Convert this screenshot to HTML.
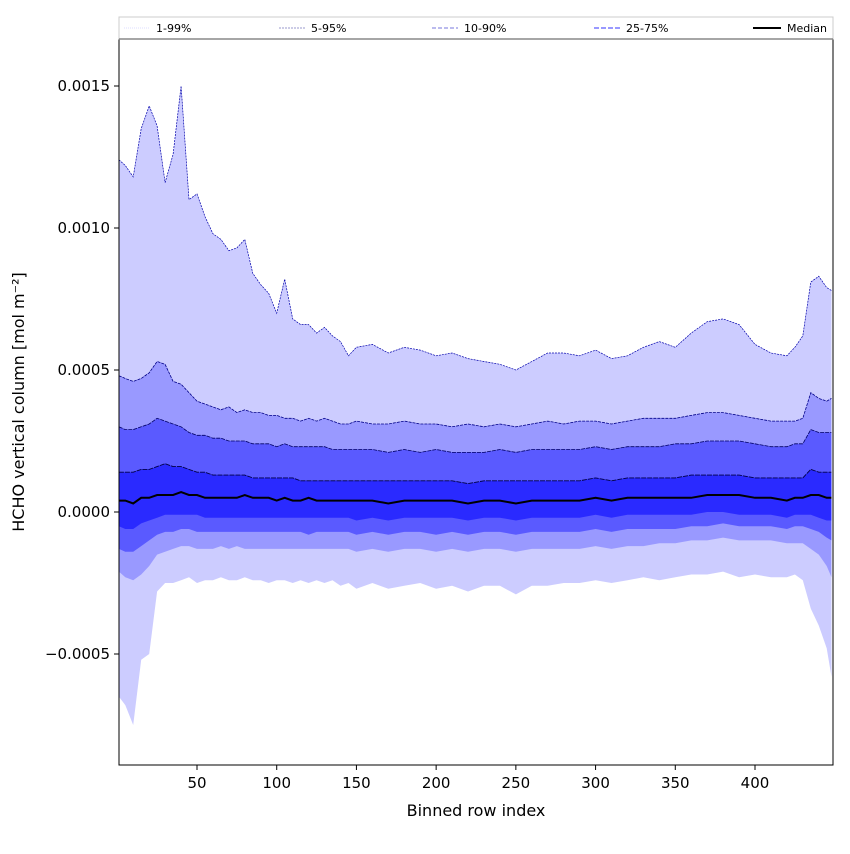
<!DOCTYPE html>
<html><head><meta charset="utf-8"><style>
body{margin:0;background:#fff;font-family:"DejaVu Sans",sans-serif}
</style></head><body>
<svg id="chart" width="850" height="850" xmlns="http://www.w3.org/2000/svg" font-family="DejaVu Sans, Liberation Sans, sans-serif">
<g id="bands"></g>
<g id="lines"></g>
<rect x="119" y="39" width="714" height="726" fill="none" stroke="#000" stroke-width="1"/>
<g id="axes"></g>
<text x="476" y="816" font-size="16" text-anchor="middle">Binned row index</text>
<text transform="translate(24,402) rotate(-90)" font-size="16" text-anchor="middle">HCHO vertical column [mol m⁻²]</text>
<g>
<rect x="119" y="17" width="714" height="22" fill="#fff" stroke="#ccc"/>
<line x1="119" y1="39" x2="833" y2="39" stroke="#888" stroke-width="1.5"/>
<g><line x1="124" y1="28" x2="150" y2="28" stroke="#ddddff" stroke-dasharray="1,1"/><text x="156" y="32" font-size="11">1-99%</text></g>
<g><line x1="279" y1="28" x2="305" y2="28" stroke="#9999cc" stroke-dasharray="2,1"/><text x="311" y="32" font-size="11">5-95%</text></g>
<g><line x1="432" y1="28" x2="458" y2="28" stroke="#7777dd" stroke-dasharray="4,2"/><text x="464" y="32" font-size="11">10-90%</text></g>
<g><line x1="594" y1="28" x2="620" y2="28" stroke="#3333ff" stroke-dasharray="5,2"/><text x="626" y="32" font-size="11">25-75%</text></g>
<g><line x1="753" y1="28" x2="781" y2="28" stroke="#000" stroke-width="2"/><text x="787" y="32" font-size="11">Median</text></g>
</g>
</svg>
<script>
const rows=[1,5,10,15,20,25,30,35,40,45,50,55,60,65,70,75,80,85,90,95,100,105,110,115,120,125,130,135,140,145,150,160,170,180,190,200,210,220,230,240,250,260,270,280,290,300,310,320,330,340,350,360,370,380,390,400,410,420,425,430,435,440,445,448];
const p99hi=[12.4,12.2,11.8,13.5,14.3,13.6,11.6,12.6,15.0,11.0,11.2,10.4,9.8,9.6,9.2,9.3,9.6,8.4,8.0,7.7,7.0,8.2,6.8,6.6,6.6,6.3,6.5,6.2,6.0,5.5,5.8,5.9,5.6,5.8,5.7,5.5,5.6,5.4,5.3,5.2,5.0,5.3,5.6,5.6,5.5,5.7,5.4,5.5,5.8,6.0,5.8,6.3,6.7,6.8,6.6,5.9,5.6,5.5,5.8,6.2,8.1,8.3,7.9,7.8];
const p95hi=[4.8,4.7,4.6,4.7,4.9,5.3,5.2,4.6,4.5,4.2,3.9,3.8,3.7,3.6,3.7,3.5,3.6,3.5,3.5,3.4,3.4,3.3,3.3,3.2,3.3,3.2,3.3,3.2,3.1,3.1,3.2,3.1,3.1,3.2,3.1,3.1,3.0,3.1,3.0,3.1,3.0,3.1,3.2,3.1,3.2,3.2,3.1,3.2,3.3,3.3,3.3,3.4,3.5,3.5,3.4,3.3,3.2,3.2,3.2,3.3,4.2,4.0,3.9,4.0];
const p90hi=[3.0,2.9,2.9,3.0,3.1,3.3,3.2,3.1,3.0,2.8,2.7,2.7,2.6,2.6,2.5,2.5,2.5,2.4,2.4,2.4,2.3,2.4,2.3,2.3,2.3,2.3,2.3,2.2,2.2,2.2,2.2,2.2,2.1,2.2,2.1,2.2,2.1,2.1,2.1,2.2,2.1,2.2,2.2,2.2,2.2,2.3,2.2,2.3,2.3,2.3,2.4,2.4,2.5,2.5,2.5,2.4,2.3,2.3,2.4,2.4,2.9,2.8,2.8,2.8];
const p75hi=[1.4,1.4,1.4,1.5,1.5,1.6,1.7,1.6,1.6,1.5,1.4,1.4,1.3,1.3,1.3,1.3,1.3,1.2,1.2,1.2,1.2,1.2,1.2,1.1,1.1,1.1,1.1,1.1,1.1,1.1,1.1,1.1,1.1,1.1,1.1,1.1,1.1,1.0,1.1,1.1,1.1,1.1,1.1,1.1,1.1,1.2,1.1,1.2,1.2,1.2,1.2,1.3,1.3,1.3,1.3,1.2,1.2,1.2,1.2,1.2,1.5,1.4,1.4,1.4];
const median=[0.4,0.4,0.3,0.5,0.5,0.6,0.6,0.6,0.7,0.6,0.6,0.5,0.5,0.5,0.5,0.5,0.6,0.5,0.5,0.5,0.4,0.5,0.4,0.4,0.5,0.4,0.4,0.4,0.4,0.4,0.4,0.4,0.3,0.4,0.4,0.4,0.4,0.3,0.4,0.4,0.3,0.4,0.4,0.4,0.4,0.5,0.4,0.5,0.5,0.5,0.5,0.5,0.6,0.6,0.6,0.5,0.5,0.4,0.5,0.5,0.6,0.6,0.5,0.5];
const p25lo=[-0.5,-0.6,-0.6,-0.4,-0.3,-0.2,-0.1,-0.1,-0.1,-0.1,-0.1,-0.2,-0.2,-0.2,-0.2,-0.2,-0.2,-0.2,-0.2,-0.2,-0.2,-0.2,-0.2,-0.2,-0.2,-0.2,-0.2,-0.2,-0.2,-0.2,-0.3,-0.2,-0.3,-0.2,-0.2,-0.2,-0.2,-0.3,-0.2,-0.2,-0.3,-0.2,-0.2,-0.2,-0.2,-0.1,-0.2,-0.1,-0.1,-0.1,-0.1,-0.1,0.0,0.0,-0.1,-0.1,-0.1,-0.2,-0.1,-0.1,-0.1,-0.2,-0.3,-0.3];
const p10lo=[-1.3,-1.4,-1.4,-1.2,-1.0,-0.8,-0.7,-0.7,-0.6,-0.6,-0.7,-0.7,-0.7,-0.7,-0.7,-0.7,-0.7,-0.7,-0.7,-0.7,-0.7,-0.7,-0.7,-0.7,-0.8,-0.7,-0.7,-0.7,-0.7,-0.7,-0.8,-0.7,-0.8,-0.7,-0.7,-0.8,-0.7,-0.8,-0.7,-0.7,-0.8,-0.7,-0.7,-0.7,-0.7,-0.6,-0.7,-0.6,-0.6,-0.6,-0.6,-0.5,-0.5,-0.4,-0.5,-0.5,-0.5,-0.6,-0.5,-0.5,-0.6,-0.7,-0.9,-1.0];
const p5lo=[-2.1,-2.3,-2.4,-2.2,-1.9,-1.5,-1.4,-1.3,-1.2,-1.2,-1.3,-1.3,-1.3,-1.2,-1.3,-1.2,-1.3,-1.3,-1.3,-1.3,-1.3,-1.3,-1.3,-1.3,-1.3,-1.3,-1.3,-1.3,-1.3,-1.3,-1.4,-1.3,-1.4,-1.3,-1.3,-1.4,-1.3,-1.4,-1.3,-1.3,-1.4,-1.3,-1.3,-1.3,-1.3,-1.2,-1.3,-1.2,-1.2,-1.1,-1.1,-1.0,-1.0,-0.9,-1.0,-1.0,-1.0,-1.1,-1.1,-1.1,-1.3,-1.5,-1.9,-2.3];
const p1lo=[-6.5,-6.8,-7.5,-5.2,-5.0,-2.8,-2.5,-2.5,-2.4,-2.3,-2.5,-2.4,-2.4,-2.3,-2.4,-2.4,-2.3,-2.4,-2.4,-2.5,-2.4,-2.4,-2.5,-2.4,-2.5,-2.4,-2.5,-2.4,-2.6,-2.5,-2.7,-2.5,-2.7,-2.6,-2.5,-2.7,-2.6,-2.8,-2.6,-2.6,-2.9,-2.6,-2.6,-2.5,-2.5,-2.4,-2.5,-2.4,-2.3,-2.4,-2.3,-2.2,-2.2,-2.1,-2.3,-2.2,-2.3,-2.3,-2.2,-2.4,-3.4,-4.0,-4.8,-5.8];
const xTicks=[50,100,150,200,250,300,350,400];
const yTicks=[-0.0005,0,0.0005,0.0010,0.0015];
const yTickLabels=["\u22120.0005","0.0000","0.0005","0.0010","0.0015"];

const NS="http://www.w3.org/2000/svg";
const xs=v=>197+(v-50)*(558/350);
const ys=v=>512-v*284000;
const yu=v=>ys(v*1e-4);
function mk(tag,attrs,parent){const e=document.createElementNS(NS,tag);for(const k in attrs)e.setAttribute(k,attrs[k]);parent.appendChild(e);return e;}
const bands=document.getElementById('bands'),lines=document.getElementById('lines'),axes=document.getElementById('axes');
function band(hi,lo,fill,name){
  let d=rows.map((r,i)=>(i?'L':'M')+xs(r).toFixed(1)+','+yu(hi[i]).toFixed(1)).join('');
  for(let i=rows.length-1;i>=0;i--)d+='L'+xs(rows[i]).toFixed(1)+','+yu(lo[i]).toFixed(1);
  const p=mk('path',{d:d+'Z',fill:fill},bands);
  
  
}
function line(arr,stroke,w,dash,name){
  const d=rows.map((r,i)=>(i?'L':'M')+xs(r).toFixed(1)+','+yu(arr[i]).toFixed(1)).join('');
  const p=mk('path',{d:d,fill:'none',stroke:stroke,'stroke-width':w,'stroke-dasharray':dash},lines);
  
  
}
band(p99hi,p1lo,'#ccccff','band-1-99');
band(p95hi,p5lo,'#9999ff','band-5-95');
band(p90hi,p10lo,'#5a5aff','band-10-90');
band(p75hi,p25lo,'#2a2aff','band-25-75');
line(p99hi,'#0000aa',0.7,'2,1','line-p99');
line(p95hi,'#000088',0.8,'3,1','line-p95');
line(p90hi,'#000066',0.8,'4,1','line-p90');
line(p75hi,'#000044',0.9,'5,1','line-p75');
line(median,'#000',2,'none','line-median');
xTicks.forEach(t=>{
  const x=xs(t);
  const l=mk('line',{x1:x,y1:765,x2:x,y2:770,stroke:'#000'},axes);
  
  
  const tx=mk('text',{x:x,y:788,'font-size':15,'text-anchor':'middle'},axes);
  tx.textContent=t;
  
  
});
yTicks.forEach((t,i)=>{
  const y=ys(t);
  const l=mk('line',{x1:114,y1:y,x2:119,y2:y,stroke:'#000'},axes);
  
  
  const tx=mk('text',{x:110,y:y+5,'font-size':15,'text-anchor':'end'},axes);
  tx.textContent=yTickLabels[i];
  
  
});
</script>
</body></html>
